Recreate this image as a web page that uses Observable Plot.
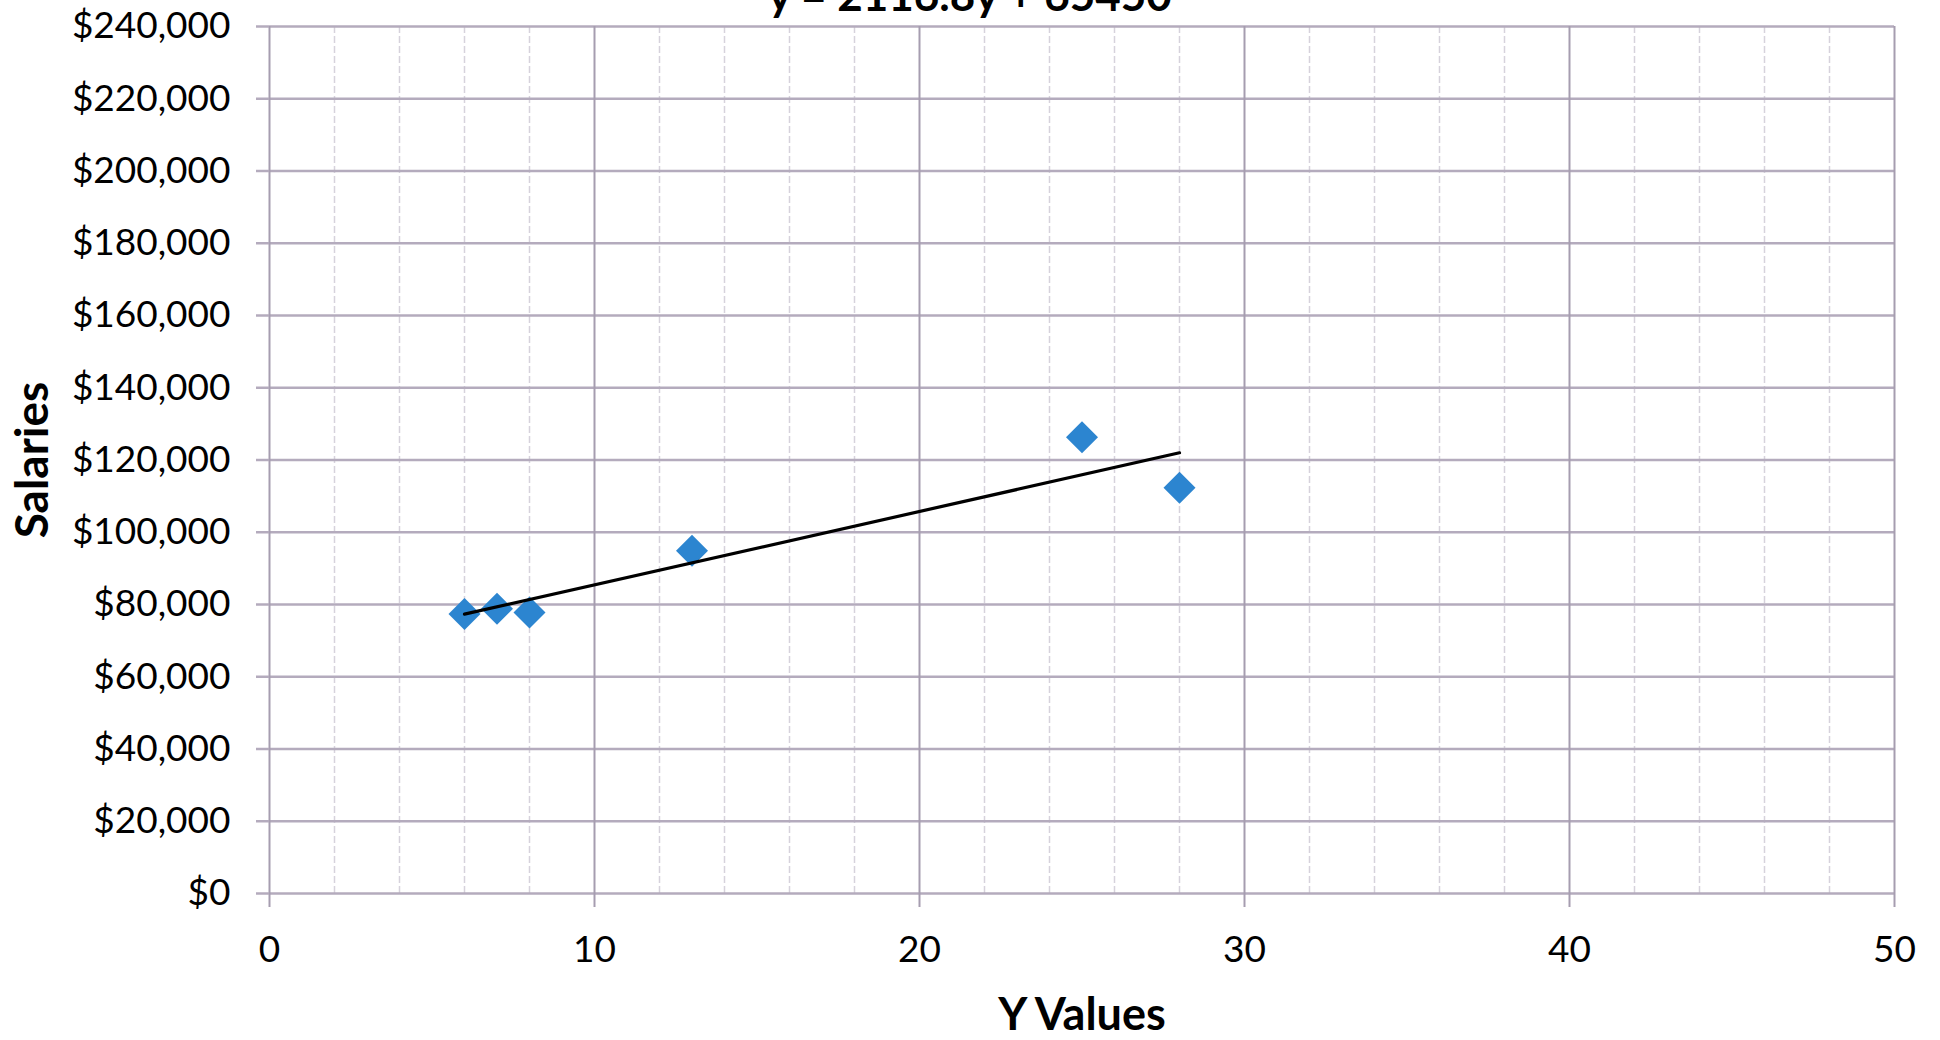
<!DOCTYPE html>
<html>
<head>
<meta charset="utf-8">
<script src="https://cdn.jsdelivr.net/npm/d3@7"></script>
<script src="https://cdn.jsdelivr.net/npm/@observablehq/plot@0.6"></script>
<style>
  html, body { margin: 0; padding: 0; background: #fff; overflow: hidden; }
  #chart { width: 1940px; height: 1040px; }
</style>
</head>
<body>
<div id="chart"></div>
<script>
// Data
const yValues = [6, 7, 8, 13, 25, 28];
const salaries = [77400, 78800, 77800, 94900, 126300, 112300];
const xTicks = [0, 10, 20, 30, 40, 50];
const xMinorTicks = [2, 4, 6, 8, 12, 14, 16, 18, 22, 24, 26, 28, 32, 34, 36, 38, 42, 44, 46, 48];
const yTicks = [0, 20000, 40000, 60000, 80000, 100000, 120000, 140000, 160000, 180000, 200000, 220000, 240000];
const titleText = "y = 2116.8y + 65450";
const xLabel = "Y Values";
const yLabel = "Salaries";

const data = yValues.map((x, i) => ({x, y: salaries[i]}));
const money = d => "$" + d3.format(",")(d);

const chart = Plot.plot({
  width: 1940,
  height: 1040,
  marginLeft: 269,
  marginRight: 46,
  marginTop: 26,
  marginBottom: 147,
  style: {fontFamily: "Lato, 'Open Sans', sans-serif", background: "#fff", color: "#000"},
  x: {domain: [0, 50]},
  y: {domain: [0, 240000]},
  marks: [
    Plot.gridX({ticks: xMinorTicks, stroke: "#d6d2dc", strokeOpacity: 1, strokeWidth: 1.5, strokeDasharray: "7,3"}),
    Plot.gridY({ticks: yTicks, stroke: "#b4abbd", strokeOpacity: 1, strokeWidth: 2.5}),
    Plot.gridX({ticks: xTicks, stroke: "#a69db0", strokeOpacity: 1, strokeWidth: 2}),
    Plot.axisX({ticks: xTicks, tickSize: 14, tickPadding: 28, fontSize: 37, stroke: "#a69db0", strokeWidth: 2, label: null}),
    Plot.axisY({ticks: yTicks, tickFormat: money, tickSize: 13, tickPadding: 26, fontSize: 37, stroke: "#b4abbd", strokeWidth: 2.5, label: null}),
    Plot.dot(data, {x: "x", y: "y", symbol: "diamond2", r: 14.4, fill: "#2c85d0", stroke: "none"}),
    Plot.linearRegressionY(data, {x: "x", y: "y", ci: 0, stroke: "#000", strokeWidth: 3.2}),
    Plot.text([titleText], {frameAnchor: "top", dx: -112, dy: -16, lineAnchor: "bottom", fontSize: 44, fontWeight: "bold", fill: "#000"}),
    Plot.text([xLabel], {frameAnchor: "bottom", dy: 122, lineAnchor: "middle", fontSize: 45, fontWeight: "bold", fill: "#000"}),
    Plot.text([yLabel], {frameAnchor: "left", dx: -236, rotate: -90, textAnchor: "middle", lineAnchor: "middle", fontSize: 46, fontWeight: "bold", fill: "#000"})
  ]
});
document.getElementById("chart").appendChild(chart);
</script>
</body>
</html>
